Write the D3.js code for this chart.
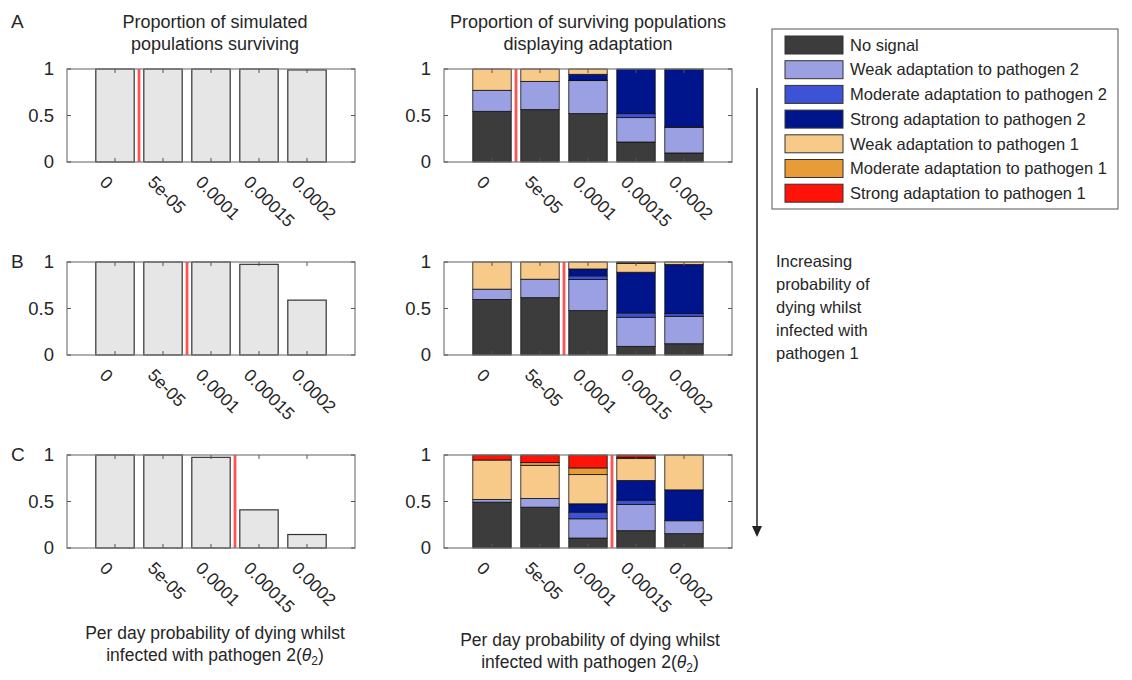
<!DOCTYPE html>
<html>
<head>
<meta charset="utf-8">
<script src="https://cdn.jsdelivr.net/npm/d3@7"></script>
<style>
  body { margin: 0; background: #fff; }
  text { font-family: "Liberation Sans", Arial, sans-serif; fill: #262626; }
</style>
</head>
<body>
<div id="chart"></div>
<script>
// x categories: per day probability of dying whilst infected with pathogen 2
const thetaLabels = ["0", "5e-05", "0.0001", "0.00015", "0.0002"];
const panelLetters = ["A", "B", "C"];

// proportion of simulated populations surviving (rows = panels A, B, C)
const survival = [
    [1, 1, 1, 1, 0.99],
    [1, 1, 1, 0.975, 0.59],
    [1, 1, 0.975, 0.41, 0.145]
];

// red marker position, in category steps after the first category
const markerOffset = [0.5, 1.5, 2.5];

const adaptNames = ["No signal", "Weak adaptation to pathogen 2", "Moderate adaptation to pathogen 2",
    "Strong adaptation to pathogen 2", "Weak adaptation to pathogen 1", "Moderate adaptation to pathogen 1",
    "Strong adaptation to pathogen 1"];
const adaptColors = ["#3c3c3c", "#9aa0e2", "#3d52d5", "#00148c", "#f8ca8a", "#e89c38", "#ff1208"];

// proportion of surviving populations per adaptation class, one row per theta value
const adaptA = [
    [0.545, 0.226, 0, 0, 0.229, 0, 0],
    [0.563, 0.304, 0, 0, 0.133, 0, 0],
    [0.520, 0.355, 0.005, 0.063, 0.057, 0, 0],
    [0.215, 0.262, 0.043, 0.480, 0, 0, 0],
    [0.097, 0.276, 0.005, 0.617, 0.005, 0, 0]
];
const adaptB = [
    [0.598, 0.110, 0, 0, 0.292, 0, 0],
    [0.616, 0.199, 0, 0, 0.185, 0, 0],
    [0.477, 0.334, 0.040, 0.074, 0.075, 0, 0],
    [0.093, 0.313, 0.046, 0.438, 0.096, 0.007, 0.007],
    [0.121, 0.295, 0.029, 0.527, 0.028, 0, 0]
];
const adaptC = [
    [0.493, 0.028, 0, 0, 0.425, 0, 0.054],
    [0.439, 0.093, 0, 0, 0.357, 0.029, 0.082],
    [0.107, 0.207, 0.072, 0.089, 0.314, 0.072, 0.139],
    [0.186, 0.282, 0.046, 0.211, 0.236, 0.014, 0.025],
    [0.154, 0.139, 0, 0.332, 0.375, 0, 0]
];
const adaptData = [adaptA, adaptB, adaptC];

const W = 1132, H = 680;
const svg = d3.select("#chart").append("svg").attr("width", W).attr("height", H);

const leftX = 67, rightX = 444, plotW = 288, plotH = 93;
const panelTops = [69, 262, 455];

const y = d3.scaleLinear().domain([0, 1]).range([plotH, 0]);
const x = d3.scaleBand().domain(thetaLabels).range([0, plotW]).paddingInner(0.2).paddingOuter(0.6);

function drawAxes(g) {
    // box frame
    g.append("rect").attr("width", plotW).attr("height", plotH)
        .attr("fill", "none").attr("stroke", "#7a7a7a").attr("stroke-width", 1.2);

    // y ticks (left and mirrored right)
    [0, 0.5, 1].forEach(t => {
        g.append("line").attr("x1", 0).attr("x2", 4).attr("y1", y(t)).attr("y2", y(t)).attr("stroke", "#555");
        g.append("line").attr("x1", plotW).attr("x2", plotW - 4).attr("y1", y(t)).attr("y2", y(t)).attr("stroke", "#555");
        g.append("text").attr("x", -13).attr("y", y(t)).attr("dy", "0.35em")
            .attr("text-anchor", "end").style("font-size", "18.5px").text(d3.format("")(t));
    });

    thetaLabels.forEach(l => {
        const cx = x(l) + x.bandwidth() / 2;
        g.append("line").attr("x1", cx).attr("x2", cx).attr("y1", plotH).attr("y2", plotH - 4).attr("stroke", "#555");
        g.append("line").attr("x1", cx).attr("x2", cx).attr("y1", 0).attr("y2", 4).attr("stroke", "#555");
        g.append("text")
            .attr("transform", `translate(${cx - 12},${plotH + 17}) rotate(45)`)
            .attr("dy", "0.35em")
            .style("font-size", "17.5px")
            .text(l);
    });
}

function drawMarker(g, row) {
    const mx = x(thetaLabels[0]) + x.bandwidth() / 2 + markerOffset[row] * x.step();
    g.append("line").attr("x1", mx).attr("x2", mx).attr("y1", 0).attr("y2", plotH)
        .attr("stroke", "#ffa0a0").attr("stroke-width", 3.5);
    g.append("line").attr("x1", mx).attr("x2", mx).attr("y1", 0).attr("y2", plotH)
        .attr("stroke", "#ff2a2a").attr("stroke-width", 1.3);
}

panelTops.forEach((top, row) => {
    // left: survival
    const gl = svg.append("g").attr("transform", `translate(${leftX},${top})`);
    gl.selectAll(".surv").data(survival[row]).enter().append("rect")
        .attr("x", (d, i) => x(thetaLabels[i]))
        .attr("y", d => y(d))
        .attr("width", x.bandwidth())
        .attr("height", d => plotH - y(d))
        .attr("fill", "#e6e6e6").attr("stroke", "#333").attr("stroke-width", 1.2);
    drawMarker(gl, row);
    drawAxes(gl);

    // right: stacked adaptation classes
    const gr = svg.append("g").attr("transform", `translate(${rightX},${top})`);
    const rows = adaptData[row].map(v => {
        const o = {};
        adaptNames.forEach((n, k) => o[n] = v[k]);
        return o;
    });
    const stacked = d3.stack().keys(adaptNames)(rows);
    gr.selectAll(".layer").data(stacked).enter().append("g")
        .attr("fill", (d, k) => adaptColors[k])
        .selectAll("rect").data(d => d).enter().append("rect")
        .attr("x", (d, i) => x(thetaLabels[i]))
        .attr("y", d => y(d[1]))
        .attr("width", x.bandwidth())
        .attr("height", d => y(d[0]) - y(d[1]))
        .attr("stroke", d => (d[1] - d[0]) > 0 ? "#111" : "none")
        .attr("stroke-width", 0.8);
    drawMarker(gr, row);
    drawAxes(gr);

    svg.append("text").attr("x", 11).attr("y", row === 0 ? 28 : top + 6)
        .style("font-size", "19px").text(panelLetters[row]);
});

// column titles
const titleL = ["Proportion of simulated", "populations surviving"];
const titleR = ["Proportion of surviving populations", "displaying adaptation"];
titleL.forEach((t, i) => svg.append("text").attr("x", leftX + plotW / 2 + 4).attr("y", 28 + i * 22)
    .attr("text-anchor", "middle").style("font-size", "18px").text(t));
titleR.forEach((t, i) => svg.append("text").attr("x", rightX + plotW / 2).attr("y", 28 + i * 22)
    .attr("text-anchor", "middle").style("font-size", "18px").text(t));

// x axis titles
function xTitle(cx, by) {
    svg.append("text").attr("x", cx).attr("y", by).attr("text-anchor", "middle")
        .style("font-size", "17.5px").text("Per day probability of dying whilst");
    const t = svg.append("text").attr("x", cx).attr("y", by + 22).attr("text-anchor", "middle")
        .style("font-size", "17.5px");
    t.append("tspan").text("infected with pathogen 2(");
    t.append("tspan").style("font-style", "italic").text("θ");
    t.append("tspan").attr("dy", 4).style("font-size", "12px").text("2");
    t.append("tspan").attr("dy", -4).text(")");
}
xTitle(leftX + plotW / 2 + 4, 639);
xTitle(rightX + plotW / 2 + 2, 646);

// legend
const lg = svg.append("g").attr("transform", "translate(772,29)");
lg.append("rect").attr("width", 346).attr("height", 180).attr("fill", "#fff").attr("stroke", "#555");
adaptNames.forEach((n, k) => {
    lg.append("rect").attr("x", 13).attr("y", 7 + k * 24.7).attr("width", 58).attr("height", 18)
        .attr("fill", adaptColors[k]).attr("stroke", "#333");
    lg.append("text").attr("x", 78).attr("y", 16 + k * 24.7).attr("dy", "0.35em")
        .style("font-size", "16.5px").text(n);
});

// arrow
svg.append("line").attr("x1", 757).attr("x2", 757).attr("y1", 88).attr("y2", 528)
    .attr("stroke", "#222").attr("stroke-width", 1.5);
svg.append("path").attr("d", "M752,526 L762,526 L757,537 Z").attr("fill", "#222");
const arrowText = ["Increasing", "probability of", "dying whilst", "infected with", "pathogen 1"];
arrowText.forEach((t, i) => svg.append("text").attr("x", 776).attr("y", 267 + i * 23)
    .style("font-size", "16.5px").text(t));
</script>
</body>
</html>
